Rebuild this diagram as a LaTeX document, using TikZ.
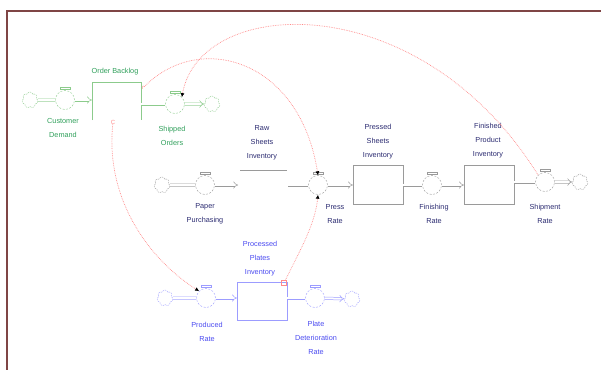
\documentclass[tikz,border=0pt]{standalone}
\usepackage{fontspec}
\setmainfont{Liberation Sans}
\usetikzlibrary{arrows.meta, shapes.symbols, positioning}

\definecolor{frameBrown}{HTML}{7F4545}
\definecolor{ordGreen}{HTML}{8CCB8C}
\definecolor{ordText}{HTML}{2F9F5A}
\definecolor{midGray}{HTML}{9A9A9A}
\definecolor{midText}{HTML}{2A2A70}
\definecolor{plateBlue}{HTML}{9C9CFF}
\definecolor{plateText}{HTML}{4A4AF0}
\definecolor{linkRed}{HTML}{FF8A8A}

\begin{document}
\begin{tikzpicture}[x=1pt, y=-1pt,
  every node/.style={font=\fontsize{7.3}{14}\selectfont, align=center},
  valve/.style={circle, draw, dash pattern=on 2pt off 1.5pt, minimum size=19pt, inner sep=0pt},
  cloudy/.style={cloud, cloud puffs=7, aspect=1, draw, dash pattern=on 1.5pt off 1pt, minimum width=16pt, minimum height=16pt, inner sep=0pt},
  stock/.style={rectangle, draw, minimum width=50pt, minimum height=39pt, inner sep=0pt},
  pipe/.style={double, double distance=2pt, line width=0.5pt},
  flowin/.style={pipe, -{Implies[length=5pt, width=9pt]}},
  link/.style={linkRed, densely dotted, line width=0.7pt, -{Latex[color=black, length=4pt, width=4pt]}}]

\useasboundingbox (0,0) rectangle (601,369);
\draw[frameBrown, line width=1.6pt] (7,11) rectangle (640,420);

% order backlog row
\node[cloudy, ordGreen] (cdc) at (30,100) {};
\node[valve, ordGreen] (cdv) at (65,100) {};
\node[minimum width=49pt, minimum height=38pt, inner sep=0pt] (ob) at (116.5,101) {};
\node[valve, ordGreen] (sov) at (175,104) {};
\node[cloudy, ordGreen] (soc) at (212,104) {};

\draw[ordGreen] (ob.south west) -- (ob.north west) -- (ob.north east) -- (ob.south east);
\draw[pipe, ordGreen] (cdc) -- (cdv);
\draw[flowin, ordGreen] (cdv) -- (cdv -| ob.west);
\draw[pipe, ordGreen] (ob.east |- sov) -- (sov);
\draw[flowin, ordGreen] (sov) -- (soc);

\node[ordText] at (115,72) {Order Backlog};
\node[ordText] at (63,128) {Customer\\Demand};
\node[ordText] at (172,136) {Shipped\\Orders};

% paper and product row
\node[cloudy, midGray] (ppc) at (162,185) {};
\node[valve, midGray] (ppv) at (205,185) {};
\coordinate (ppend) at (238,185);
\coordinate (rsw) at (240,170);
\coordinate (rse) at (287,170);
\coordinate (prstart) at (288,185);
\node[valve, midGray] (prv) at (318,185) {};
\node[stock, midGray] (psi) at (378,185) {};
\node[valve, midGray] (fnv) at (432,185) {};
\node[stock, midGray] (fpi) at (489,185) {};
\node[valve, midGray] (shv) at (545,182) {};
\node[cloudy, midGray] (shc) at (580,182) {};

\draw[midGray] (rsw) -- (rse);
\draw[pipe, midGray] (ppc) -- (ppv);
\draw[flowin, midGray] (ppv) -- (ppend);
\draw[pipe, midGray] (prstart) -- (prv);
\draw[flowin, midGray] (prv) -- (psi);
\draw[pipe, midGray] (psi) -- (fnv);
\draw[flowin, midGray] (fnv) -- (fpi);
\draw[pipe, midGray] (fpi.east |- shv) -- (shv);
\draw[flowin, midGray] (shv) -- (shc);

\node[midText] at (262,143) {Raw\\Sheets\\Inventory};
\node[midText] at (205,214) {Paper\\Purchasing};
\node[midText] at (335,214) {Press\\Rate};
\node[midText] at (378,142) {Pressed\\Sheets\\Inventory};
\node[midText] at (434,214) {Finishing\\Rate};
\node[midText] at (488,141) {Finished\\Product\\Inventory};
\node[midText] at (545,214) {Shipment\\Rate};

% plates row
\node[cloudy, plateBlue] (pdc) at (165,298) {};
\node[valve, plateBlue] (pdv) at (206,298) {};
\node[stock, plateBlue, minimum height=38pt] (ppi) at (262,301) {};
\node[valve, plateBlue] (pldv) at (315,298) {};
\node[cloudy, plateBlue] (pldc) at (352,299) {};

\draw[pipe, plateBlue] (pdc) -- (pdv);
\draw[flowin, plateBlue] (pdv) -- (pdv -| ppi.west);
\draw[pipe, plateBlue] (ppi.east |- pldv) -- (pldv);
\draw[flowin, plateBlue] (pldv) -- (pldc);

\node[plateText] at (260,259) {Processed\\Plates\\Inventory};
\node[plateText] at (207,332) {Produced\\Rate};
\node[plateText] at (316,338) {Plate\\Deterioration\\Rate};

% valve handles
\foreach \v/\c in {cdv/ordGreen, sov/ordGreen, ppv/midGray, prv/midGray, fnv/midGray,
                   shv/midGray, pdv/plateBlue, pldv/plateBlue}
  \draw[\c, line width=0.4pt] ([xshift=-5pt, yshift=1pt]\v.north) rectangle ([xshift=5pt, yshift=3.5pt]\v.north);

% links
\node[linkRed, font=\fontsize{6}{6}\selectfont, inner sep=0pt] (obc) at (113,122) {C};
\node[linkRed, font=\fontsize{6}{6}\selectfont, inner sep=0pt] (obr) at (143,88) {r};
\node[draw=linkRed, minimum size=5pt, inner sep=0pt] (ppm) at (284,283) {};

\draw[link] (shv.north west) .. controls (420,-15) and (200,-5) .. (sov.north east);
\draw[link] (obr) .. controls (200,30) and (300,60) .. (prv.north);
\draw[link] (obc) .. controls (105,200) and (150,260) .. (pdv.north west);
\draw[link] (ppm) .. controls (300,250) and (315,225) .. (prv.south);
\end{tikzpicture}
\end{document}
